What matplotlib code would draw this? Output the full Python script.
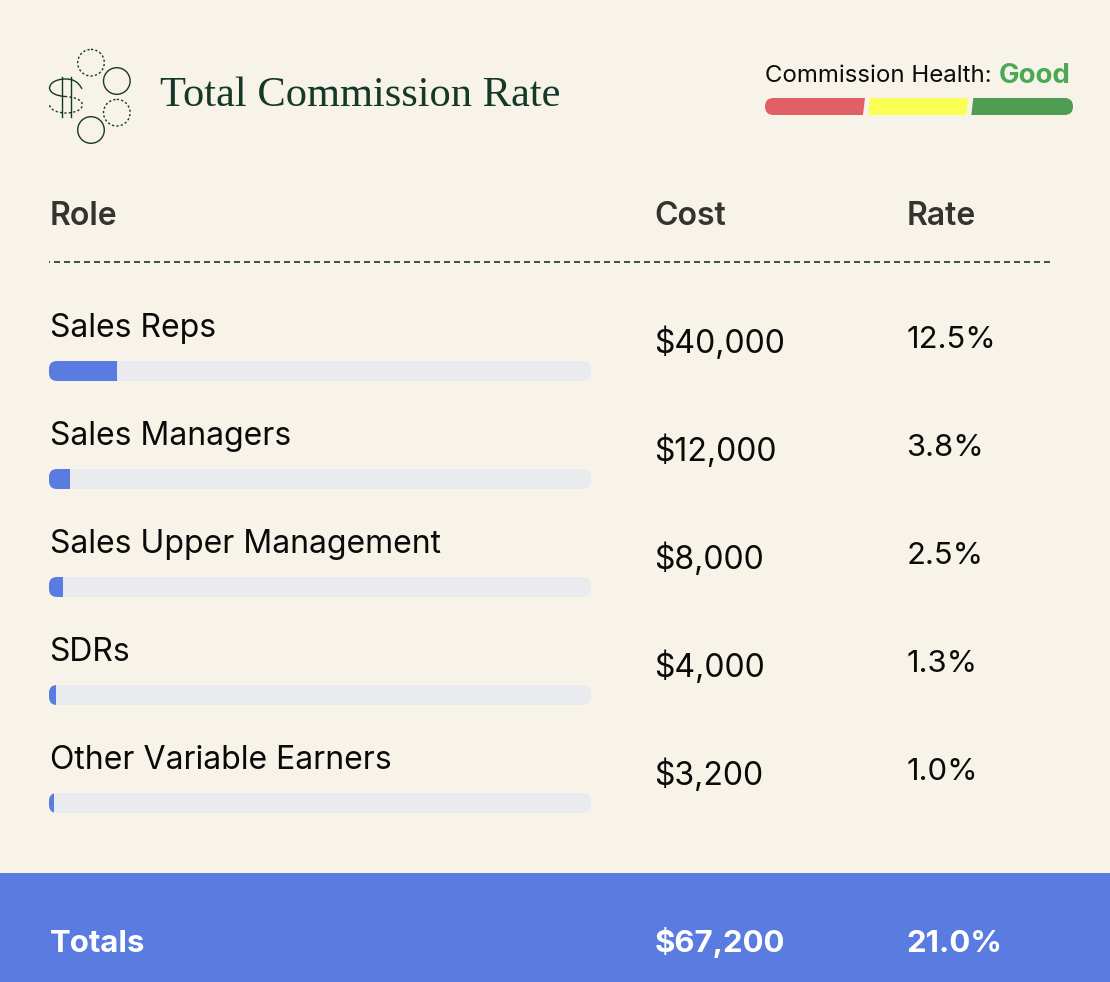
import matplotlib
matplotlib.use("Agg")
import matplotlib.pyplot as plt
from matplotlib.patches import FancyBboxPatch, Polygon, Circle, Rectangle, PathPatch
from matplotlib.path import Path

W, H = 1110, 982
BG = "#F7F3E8"; BLUE = "#5A7BDF"; TRACK = "#EAEBEF"; DARK = "#14392A"; INK = "#0A0A0A"; HEAD = "#333330"

roles = ["Sales Reps", "Sales Managers", "Sales Upper Management", "SDRs", "Other Variable Earners"]
costs = ["$40,000", "$12,000", "$8,000", "$4,000", "$3,200"]
rates = [12.5, 3.8, 2.5, 1.3, 1.0]
headers = ["Role", "Cost", "Rate"]
totals = ["Totals", "$67,200", "21.0%"]
gauge_colors = ["#E06066", "#F9FF55", "#4E9D52"]

plt.rcParams["font.family"] = ["Inter", "DejaVu Sans"]
fig = plt.figure(figsize=(W / 100, H / 100), dpi=100, facecolor=BG)
px = fig.add_axes([0, 0, 1, 1]); px.set_xlim(0, W); px.set_ylim(H, 0); px.axis("off")

def pt(p):
    return p * 0.72

# Icon
dash = (0, (1.6, 1.6))
for (cx, cy), ls in zip([(91, 62.7), (116.8, 81), (116.8, 112.7), (91, 130)], [dash, "-", dash, "-"]):
    px.add_patch(Circle((cx, cy), 13.3, fill=False, ec=DARK, lw=1.0, ls=ls))
top = Path([(82, 89), (78, 81), (72, 79), (66, 79), (56, 79), (49.6, 83), (49.6, 88), (49.6, 93), (57, 96), (65, 96.5)],
           [1, 4, 4, 4, 4, 4, 4, 4, 4, 4])
bot = Path([(65, 96.5), (75, 97), (82.3, 100), (82.3, 105), (82.3, 110), (74, 113), (66, 113), (58, 113), (50, 110), (49.6, 105)],
           [1, 4, 4, 4, 4, 4, 4, 4, 4, 4])
px.add_patch(PathPatch(top, fill=False, ec=DARK, lw=1.0))
px.add_patch(PathPatch(bot, fill=False, ec=DARK, lw=1.0, ls=dash))
px.plot([61.7, 61.7], [76.7, 117], color=DARK, lw=1.0)
px.plot([70.6, 70.6], [76.7, 117], color=DARK, lw=1.0)

# Title
px.text(160, 106.2, "Total Commission Rate", family=["Liberation Serif"], fontsize=pt(42.5), color=DARK)

# Health
px.text(765, 82, "Commission Health:", fontsize=pt(24), color=INK)
px.text(1070.5, 82.5, "Good", fontsize=pt(27.5), color="#4CA853", weight="bold", ha="right")

gx0, gx1, gy0, gy1 = 765, 1073, 98, 115
clip = FancyBboxPatch((gx0, gy0), gx1 - gx0, gy1 - gy0, boxstyle="round,pad=0,rounding_size=8.5",
                      fc="none", ec="none", transform=px.transData)
px.add_patch(clip)
bounds = [gx0 - 10, 866, 969.3, gx1 + 10]
for i, c in enumerate(gauge_colors):
    L, R = bounds[i] + 2, bounds[i + 1] - 2
    poly = Polygon([(L + 2, gy0), (R + 1, gy0), (R - 1, gy1), (L, gy1)], closed=True, fc=c, ec="none")
    px.add_patch(poly)
    poly.set_clip_path(clip)

# Headers
xs = [50, 654, 907]
for x, s in zip(xs, headers):
    px.text(x, 224.7, s, fontsize=pt(32), weight="semibold", color=HEAD)
px.plot([1050, 49], [262, 262], color=DARK, lw=1.2, ls=(0, (3.6, 2.4)))

# Rows
row = 108
for i, (r, c, v) in enumerate(zip(roles, costs, rates)):
    px.text(49.6, 336.7 + i * row, r, fontsize=pt(32), color=INK)
    px.text(654, 352.7 + i * row, c, fontsize=pt(32), color=INK)
    px.text(906.5, 348 + i * row, f"{v:.1f}%", fontsize=pt(31), color=INK)

# Bars
ax = fig.add_axes([49 / W, 1 - 857 / H, 542 / W, 540 / H])
ax.set_xlim(0, 100); ax.set_ylim(4.5, -0.5); ax.axis("off"); ax.patch.set_alpha(0)
ys = list(range(len(rates)))
tracks = ax.barh(ys, [100] * len(rates), height=20 / 108, color=TRACK)
fills = ax.barh(ys, rates, height=20 / 108, color=BLUE)
for i in ys:
    cp = FancyBboxPatch((49, 361 + i * row), 542, 20, boxstyle="round,pad=0,rounding_size=8",
                        fc="none", ec="none", transform=px.transData)
    px.add_patch(cp)
    tracks[i].set_clip_path(cp); fills[i].set_clip_path(cp)

# Totals band
px.add_patch(Rectangle((0, 873), W, H - 873, fc=BLUE, ec="none"))
for x, s, dx in zip(xs, totals, [0, 0.5, -1]):
    px.text(x + dx, 951.7, s, fontsize=pt(31.2), weight="bold", color="white")

fig.savefig("out.png", dpi=100, facecolor=BG)
